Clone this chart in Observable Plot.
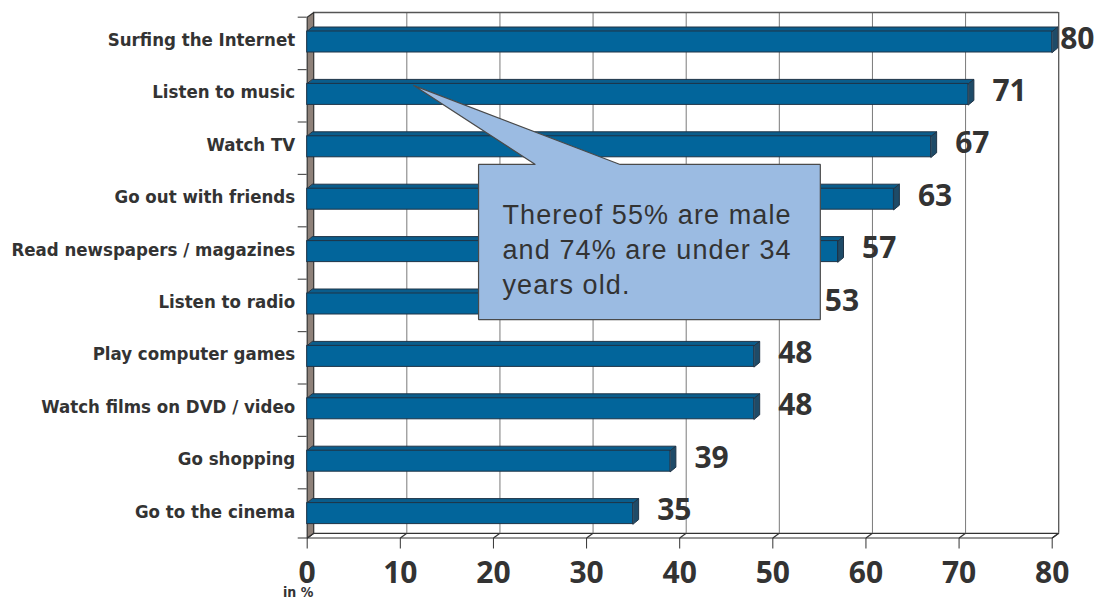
<!DOCTYPE html>
<html>
<head>
<meta charset="utf-8">
<script src="https://cdn.jsdelivr.net/npm/d3@7"></script>
<script src="https://cdn.jsdelivr.net/npm/@observablehq/plot@0.6"></script>
<style>
  html, body { margin: 0; padding: 0; background: #ffffff; }
  #chart { width: 1096px; height: 599px; overflow: hidden; }
  g[aria-description="callout"] text { letter-spacing: 1.1px; }
</style>
</head>
<body>
<div id="chart"></div>
<script>
// ---- data ----
const categories = [
  "Surfing the Internet",
  "Listen to music",
  "Watch TV",
  "Go out with friends",
  "Read newspapers / magazines",
  "Listen to radio",
  "Play computer games",
  "Watch films on DVD / video",
  "Go shopping",
  "Go to the cinema"
];
const values = [80, 71, 67, 63, 57, 53, 48, 48, 39, 35];
const xTicks = [0, 10, 20, 30, 40, 50, 60, 70, 80];
const unitLabel = "in %";
const calloutLines = ["Thereof 55% are male", "and 74% are under 34", "years old."];

// ---- layout constants (pixels) ----
const W = 1096, H = 599;
const mLeft = 306.7, mRight = W - 1051.7, mTop = 16.7, mBottom = H - 537.5;
const rowPx = 52.4;
const FLOOR = (H - mBottom - mTop) / rowPx;          // y of the floor in row units
const pxX = (W - mLeft - mRight) / 80;                // px per x unit
const wallDX = 6.5, wallDY = 4.7;                     // depth of walls (px)
const barDX = 5.5, barDY = 4.5;                       // depth of bars (px)
const F1 = 14.3 / rowPx, F2 = 35.3 / rowPx;           // front face within a row
const wdx = wallDX / pxX, wdy = wallDY / rowPx;
const bdx = barDX / pxX, bdy = barDY / rowPx;

const rows = categories.map((c, i) => ({category: c, value: values[i], i}));
const maxValue = d3.max(values);

// 3D faces of bars as polygons
const faces = [];
rows.forEach(r => {
  const t = r.i + F1, b = r.i + F2, v = r.value;
  [[0, t], [v, t], [v + bdx, t - bdy], [bdx, t - bdy]]
    .forEach(([x, y]) => faces.push({key: "top" + r.i, kind: "top", x, y}));
  [[v, t], [v + bdx, t - bdy], [v + bdx, b - bdy], [v, b]]
    .forEach(([x, y]) => faces.push({key: "side" + r.i, kind: "side", x, y}));
});

const leftWall = [[0, 0], [wdx, -wdy], [wdx, FLOOR - wdy], [0, FLOOR]].map(([x, y]) => ({x, y}));
const floor = [[0, FLOOR], [80, FLOOR], [80 + wdx, FLOOR - wdy], [wdx, FLOOR - wdy]].map(([x, y]) => ({x, y}));
const boundaries = d3.range(0, categories.length).concat([FLOOR]);

// callout (annotation anchors in data units)
const box = {x1: 18.4, x2: 55.1, y1: 2.81, y2: 5.77};
const tip = {x: 11.4, y: 1.30};
const base = {x1: 24.5, x2: 33.6};
const callout = [
  [tip.x, tip.y], [base.x2, box.y1], [box.x2, box.y1], [box.x2, box.y2],
  [box.x1, box.y2], [box.x1, box.y1], [base.x1, box.y1]
].map(([x, y]) => ({x, y}));

const labelY = r => r.i + (F1 + F2) / 2;
const numFont = "'Open Sans', 'DejaVu Sans', sans-serif";
const catFont = "'DejaVu Sans Condensed', 'DejaVu Sans', sans-serif";

const plot = Plot.plot({
  width: W,
  height: H,
  marginLeft: mLeft,
  marginRight: mRight,
  marginTop: mTop,
  marginBottom: mBottom,
  style: {
    fontFamily: numFont,
    fontWeight: "bold",
    fontSize: "30px",
    color: "#333333",
    background: "transparent",
    overflow: "visible"
  },
  x: {domain: [0, 80], ticks: xTicks, tickSize: 11, tickPadding: 13, label: null},
  y: {domain: [0, FLOOR], reverse: true, axis: null},
  marks: [
    // back wall gridlines
    Plot.ruleX(xTicks.filter(d => d > 0 && d < 80), {x: d => d, y1: 0, y2: FLOOR, dx: wallDX, dy: -wallDY, stroke: "#7a7a7a", strokeWidth: 1}),
    Plot.ruleX([80], {x: d => d, y1: 0, y2: FLOOR, dx: wallDX, dy: -wallDY, stroke: "#555", strokeWidth: 1.3}),
    Plot.ruleY([0], {y: d => d, x1: 0, x2: 80, dx: wallDX, dy: -wallDY, stroke: "#555", strokeWidth: 1.3}),
    // floor
    Plot.line(floor, {x: "x", y: "y", fill: "#ffffff", stroke: "#333", strokeWidth: 1.2, curve: "linear-closed"}),
    Plot.link(xTicks, {x1: d => d, y1: FLOOR, x2: d => d + wdx, y2: FLOOR - wdy, stroke: "#333", strokeWidth: 1.2}),
    // left wall
    Plot.line(leftWall, {x: "x", y: "y", fill: "#8e8179", stroke: "#333", strokeWidth: 1.2, curve: "linear-closed"}),
    // category ticks at the left wall
    Plot.ruleY(boundaries, {y: d => d, x1: 0, x2: 0, insetLeft: -9, stroke: "#555", strokeWidth: 1.2}),
    // bars: top & side faces
    Plot.line(faces.filter(d => d.kind === "top"), {x: "x", y: "y", z: "key", fill: "#0a5d8c", stroke: "#1f3447", strokeWidth: 1, curve: "linear-closed"}),
    Plot.line(faces.filter(d => d.kind === "side"), {x: "x", y: "y", z: "key", fill: "#1e4b68", stroke: "#1f3447", strokeWidth: 1, curve: "linear-closed"}),
    // bars: front face
    Plot.rect(rows, {x1: 0, x2: "value", y1: r => r.i + F1, y2: r => r.i + F2, fill: "#02659b", stroke: "#1f3447", strokeWidth: 1}),
    // category labels
    Plot.text(rows, {x: 0, y: labelY, text: "category", textAnchor: "end", dx: -12, dy: -2, fontFamily: catFont, fontSize: 18.5, fontWeight: "bold", fill: "#333333"}),
    // value labels (the longest bar's label sits tight to its end)
    Plot.text(rows.filter(r => r.value < maxValue), {x: "value", y: labelY, text: r => String(r.value), textAnchor: "start", dx: 24, dy: -3, fontFamily: numFont, fontSize: 30, fontWeight: "bold", fill: "#333333"}),
    Plot.text(rows.filter(r => r.value === maxValue), {x: "value", y: labelY, text: r => String(r.value), textAnchor: "start", dx: 8, dy: -3, fontFamily: numFont, fontSize: 30, fontWeight: "bold", fill: "#333333"}),
    // unit note
    Plot.text([unitLabel], {x: 0, y: FLOOR, text: d => d, textAnchor: "middle", lineAnchor: "bottom", dx: -9, dy: 59, fontFamily: catFont, fontSize: 14, fontWeight: "bold", fill: "#333333"}),
    // callout
    Plot.line(callout, {x: "x", y: "y", fill: "#9bbbe2", stroke: "#4a4a4a", strokeWidth: 1.2, curve: "linear-closed", strokeLinejoin: "miter"}),
    Plot.text([calloutLines.join("\n")], {x: 20.97, y: 3.46, text: d => d, textAnchor: "start", lineAnchor: "top", lineHeight: 1.31,
      fontFamily: "'Liberation Sans', Arial, sans-serif", fontWeight: "normal", fontSize: 27, fill: "#333333", ariaDescription: "callout"})
  ]
});
document.getElementById("chart").appendChild(plot);
</script>
</body>
</html>
